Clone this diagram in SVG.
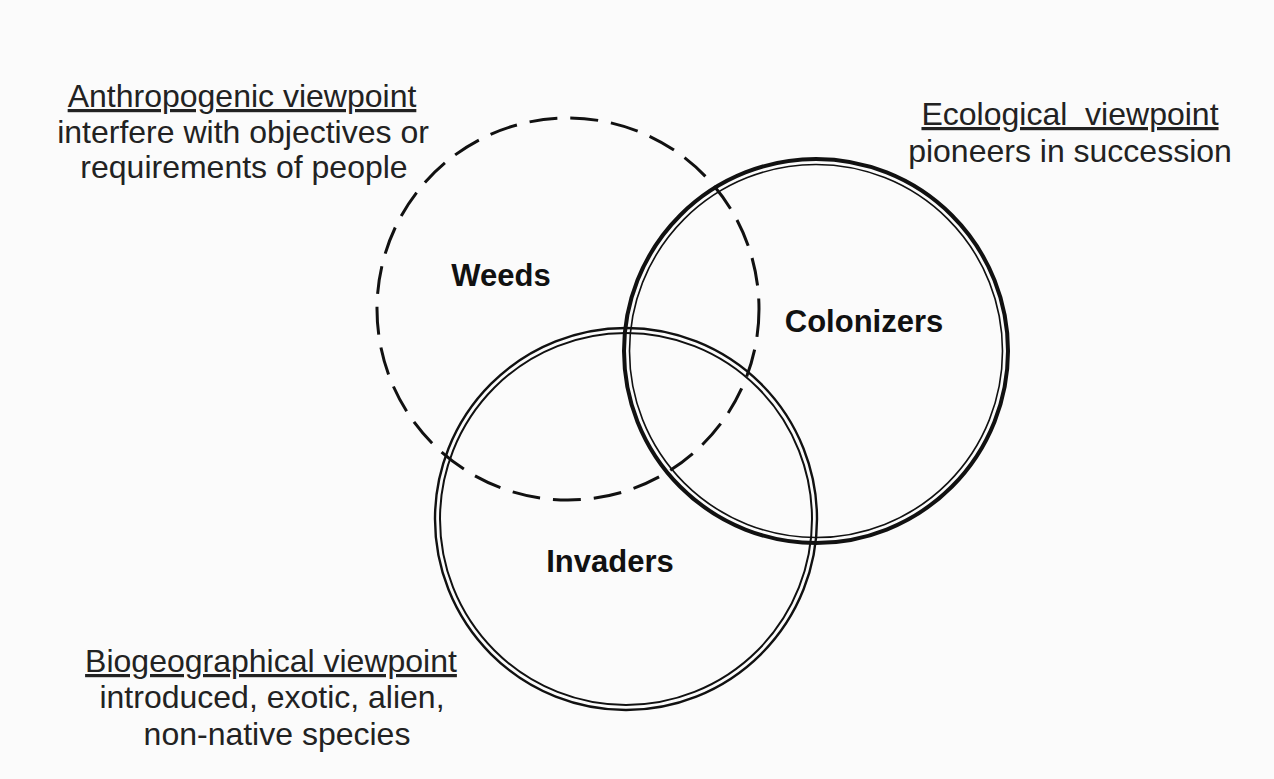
<svg xmlns="http://www.w3.org/2000/svg" width="1274" height="779" viewBox="0 0 1274 779">
<style>
.t{font-family:"Liberation Sans",Arial,sans-serif;font-size:32px;fill:#222;text-anchor:middle}
.u{text-decoration:underline}
.lab{font-family:"Liberation Sans",Arial,sans-serif;font-size:31px;font-weight:bold;fill:#111;text-anchor:middle}
.c{fill:none;stroke:#111}
</style>
<rect width="1274" height="779" fill="#fbfbfb"/>
<g id="connectors"></g>
<g id="weeds">
<circle class="c" cx="568" cy="309" r="191" stroke-width="3" stroke-dasharray="28 13"/>
<text class="lab" x="501" y="286">Weeds</text>
</g>
<g id="colonizers">
<circle class="c" cx="816" cy="351" r="192" stroke-width="4"/>
<circle class="c" cx="816" cy="351" r="186.5" stroke-width="1.6"/>
<text class="lab" x="864" y="332">Colonizers</text>
</g>
<g id="invaders">
<circle class="c" cx="626" cy="519" r="191" stroke-width="2.4"/>
<circle class="c" cx="626" cy="519" r="186" stroke-width="2"/>
<text class="lab" x="610" y="572">Invaders</text>
</g>
<g id="anthropogenic">
<text class="t u" x="242" y="107">Anthropogenic viewpoint</text>
<text class="t" x="243" y="143">interfere with objectives or</text>
<text class="t" x="244" y="178">requirements of people</text>
</g>
<g id="ecological">
<text class="t u" x="1070" y="125" xml:space="preserve">Ecological  viewpoint</text>
<text class="t" x="1070" y="162">pioneers in succession</text>
</g>
<g id="biogeographical">
<text class="t u" x="271" y="672">Biogeographical viewpoint</text>
<text class="t" x="272" y="708">introduced, exotic, alien,</text>
<text class="t" x="277" y="745">non-native species</text>
</g>
</svg>
